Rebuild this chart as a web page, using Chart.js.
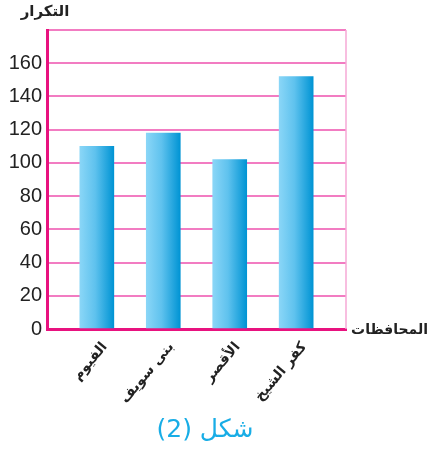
<!DOCTYPE html>
<html lang="ar">
<head>
<meta charset="utf-8">
<script src="https://cdn.jsdelivr.net/npm/chart.js@4.4.1/dist/chart.umd.min.js"></script>
<style>
  html, body { margin: 0; padding: 0; background: #fff; }
  canvas { display: block; }
</style>
</head>
<body>
<canvas id="barChart" width="431" height="451"></canvas>
<script>
// DATA
const categories = ["الفيوم", "بنى سويف", "الأقصر", "كفر الشيخ"];
const counts = [110, 118, 102, 152];
const yTicks = [0, 20, 40, 60, 80, 100, 120, 140, 160];

// TEXTS
const yTitle = "التكرار";
const xTitle = "المحافظات";
const caption = "شكل (2)";

const canvas = document.getElementById("barChart");
const BAR_W = 34;

// horizontal gradient for each bar, placed from its own x value
function barGradient(context) {
    const chart = context.chart;
    const xScale = chart.scales.x;
    if (!chart.chartArea || !xScale || !context.parsed) return "#4fbdec";
    const cx = xScale.getPixelForValue(context.parsed.x);
    const left = cx - BAR_W / 2;
    const g = chart.ctx.createLinearGradient(left, 0, left + BAR_W, 0);
    g.addColorStop(0, "#8ad6f7");
    g.addColorStop(0.45, "#5fc2ee");
    g.addColorStop(1, "#0094d4");
    return g;
}

// frame + texts
const decorPlugin = {
    id: "decor",
    afterDraw(chart) {
        const ctx = chart.ctx;
        const area = chart.chartArea;
        ctx.save();
        ctx.strokeStyle = "#f6a9d6";
        ctx.lineWidth = 1.5;
        ctx.beginPath();
        ctx.moveTo(area.right, area.top);
        ctx.lineTo(area.right, area.bottom);
        ctx.stroke();

        ctx.fillStyle = "#222";
        ctx.font = "bold 15px 'DejaVu Sans'";
        ctx.textBaseline = "middle";
        ctx.textAlign = "center";
        ctx.fillText(yTitle, 45, 12);
        ctx.textAlign = "right";
        ctx.font = "bold 14px 'DejaVu Sans'";
        ctx.fillText(xTitle, 428, 330);

        ctx.fillStyle = "#18ade6";
        ctx.font = "25px 'DejaVu Sans'";
        ctx.textAlign = "center";
        ctx.fillText(caption, 205, 430);
        ctx.restore();
    }
};

new Chart(canvas, {
    type: "bar",
    data: {
        datasets: [{
            data: counts.map((v, i) => ({ x: i, y: v })),
            backgroundColor: barGradient,
            borderWidth: 0,
            barThickness: BAR_W
        }]
    },
    options: {
        responsive: false,
        animation: false,
        layout: { padding: { top: 30, right: 85, left: 0, bottom: 0 } },
        plugins: {
            legend: { display: false },
            tooltip: { enabled: false }
        },
        scales: {
            x: {
                type: "linear",
                offset: false,
                min: -0.75,
                max: categories.length - 0.25,
                afterBuildTicks: scale => {
                    scale.ticks = categories.map((_, i) => ({ value: i }));
                },
                afterFit: scale => { scale.height = 122; },
                grid: { display: false, offset: false },
                border: { display: true, color: "#e8127f", width: 3 },
                ticks: {
                    autoSkip: false,
                    minRotation: 50,
                    maxRotation: 50,
                    padding: 2,
                    labelOffset: 8,
                    color: "#222",
                    font: { family: "DejaVu Sans", size: 14, weight: "bold" },
                    callback: v => categories[v]
                }
            },
            y: {
                min: 0,
                max: 180,
                afterBuildTicks: scale => {
                    scale.ticks = yTicks.concat([180]).map(v => ({ value: v }));
                },
                afterFit: scale => { scale.width = 47; },
                grid: { color: "#f27cc2", lineWidth: 2, drawTicks: false },
                border: { display: true, color: "#e8127f", width: 3 },
                ticks: {
                    padding: 5,
                    color: "#222",
                    font: { family: "Liberation Sans", size: 20 },
                    callback: v => (yTicks.includes(v) ? v : "")
                }
            }
        }
    },
    plugins: [decorPlugin]
});
</script>
</body>
</html>
